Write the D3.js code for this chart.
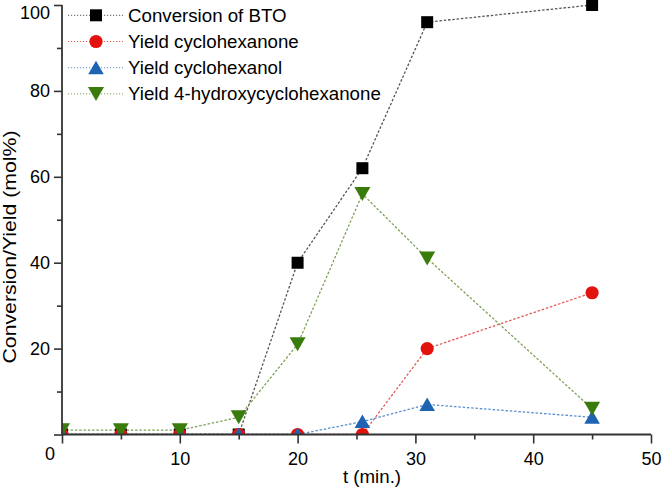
<!DOCTYPE html>
<html><head><meta charset="utf-8">
<script src="https://cdn.jsdelivr.net/npm/d3@7"></script>
<style>body{margin:0;background:#fff}svg{display:block}text{font-family:"Liberation Sans",Arial,sans-serif;fill:#000}</style>
</head><body>
<script>
const times = [0, 5, 10, 15, 20, 25.5, 31, 45];
const conversionBTO = [0, 0, 0, 0, 40, 62, 96, 100];
const yieldCyclohexanone = [0, 0, 0, 0, 0, 0, 20, 33];
const yieldCyclohexanol = [0, 0, 0, 0, 0, 3, 7, 4];
const yieldHydroxy = [1, 1, 1, 4, 21, 56, 41, 6];
const seriesNames = ["Conversion of BTO", "Yield cyclohexanone", "Yield cyclohexanol", "Yield 4-hydroxycyclohexanone"];
const xMajor = [0, 10, 20, 30, 40, 50];
const xMinor = [5, 15, 25, 35, 45];
const yMajor = [0, 20, 40, 60, 80, 100];
const yMinor = [10, 30, 50, 70, 90];

const W = 666, H = 489;
const svg = d3.select("body").append("svg").attr("width", W).attr("height", H);
const x = d3.scaleLinear().domain([0, 50]).range([62, 651]);
const y = d3.scaleLinear().domain([0, 100]).range([434.5, 5]);

const series = [
  {name: seriesNames[0], vals: conversionBTO, fill: "#000000", line: "#555555", shape: "square"},
  {name: seriesNames[1], vals: yieldCyclohexanone, fill: "#e2120f", line: "#e25a55", shape: "circle"},
  {name: seriesNames[2], vals: yieldCyclohexanol, fill: "#1f63b3", line: "#5a8fcf", shape: "tri"},
  {name: seriesNames[3], vals: yieldHydroxy, fill: "#3a7c0c", line: "#7da156", shape: "itri"}
];

function markerPath(shape) {
  if (shape === "square") return "M-6,-6H6V6H-6Z";
  if (shape === "circle") return d3.symbol(d3.symbolCircle, Math.PI * 6.6 * 6.6)();
  if (shape === "tri") return "M0,-7L7.8,6.5L-7.8,6.5Z";
  return "M-8,-7L8,-7L0,7Z";
}

svg.append("defs").append("clipPath").attr("id", "plot")
  .append("rect").attr("x", x(0)).attr("y", 0).attr("width", x(50) - x(0) + 10).attr("height", y(0));

const plot = svg.append("g").attr("clip-path", "url(#plot)");
const line = d3.line().x(d => x(d[0])).y(d => y(d[1]));
series.forEach(s => {
  const pts = times.map((t, i) => [t, s.vals[i]]);
  plot.append("path").attr("d", line(pts)).attr("fill", "none")
    .attr("stroke", s.line).attr("stroke-width", 1.3).attr("stroke-dasharray", "2.5,1.8");
});
series.forEach(s => {
  const pts = times.map((t, i) => [t, s.vals[i]]);
  plot.selectAll(null).data(pts).enter().append("path")
    .attr("d", markerPath(s.shape))
    .attr("transform", d => `translate(${x(d[0])},${y(d[1])})`)
    .attr("fill", s.fill);
});

// axes
const axisColor = "#333";
const gx = svg.append("g").attr("transform", `translate(0,${y(0)})`);
gx.call(d3.axisBottom(x).tickValues(xMajor).tickSize(9).tickPadding(9)
  .tickFormat(d => d === 0 ? "" : d));
gx.append("g").call(d3.axisBottom(x).tickValues(xMinor).tickSize(5).tickFormat(""));
const gy = svg.append("g").attr("transform", `translate(${x(0)},0)`);
gy.call(d3.axisLeft(y).tickValues(yMajor).tickSize(8).tickPadding(4)
  .tickFormat(d => d === 0 ? "" : d));
gy.append("g").call(d3.axisLeft(y).tickValues(yMinor).tickSize(5).tickFormat(""));
svg.selectAll(".domain").remove();
svg.selectAll(".tick line").attr("stroke", axisColor).attr("stroke-width", 1.6);
svg.selectAll(".tick text").attr("font-size", 18).attr("font-family", '"Liberation Sans",Arial,sans-serif').attr("fill", "#000");
gy.selectAll(".tick text").filter(d => d === 100).attr("dy", "0.75em");
svg.append("line").attr("x1", x(0)).attr("x2", x(50)).attr("y1", y(0)).attr("y2", y(0))
  .attr("stroke", axisColor).attr("stroke-width", 1.8);
svg.append("line").attr("x1", x(0)).attr("x2", x(0)).attr("y1", y(0)).attr("y2", y(100))
  .attr("stroke", axisColor).attr("stroke-width", 1.8);
svg.append("text").attr("x", 50).attr("y", 454).attr("dy", "0.35em").attr("text-anchor", "middle")
  .attr("font-size", 18).text("0");

// titles
svg.append("text").attr("x", 372).attr("y", 476).attr("dy", "0.35em").attr("text-anchor", "middle")
  .attr("font-size", 18.7).text("t (min.)");
svg.append("text").attr("transform", "translate(9,247) rotate(-90)").attr("dy", "0.35em")
  .attr("text-anchor", "middle").attr("font-size", 19)
  .attr("textLength", 233).attr("lengthAdjust", "spacingAndGlyphs")
  .text("Conversion/Yield (mol%)");

// legend
const leg = svg.append("g");
series.forEach((s, i) => {
  const cy = 15.3 + i * 26.2;
  leg.append("line").attr("x1", 68).attr("x2", 123).attr("y1", cy).attr("y2", cy)
    .attr("stroke", s.line).attr("stroke-width", 1).attr("stroke-dasharray", "1.2,1.8");
  leg.append("path").attr("d", markerPath(s.shape)).attr("transform", `translate(96,${cy})`).attr("fill", s.fill);
  leg.append("text").attr("x", 128).attr("y", cy).attr("dy", "0.35em").attr("font-size", 18.7).text(s.name);
});
</script>
</body></html>
